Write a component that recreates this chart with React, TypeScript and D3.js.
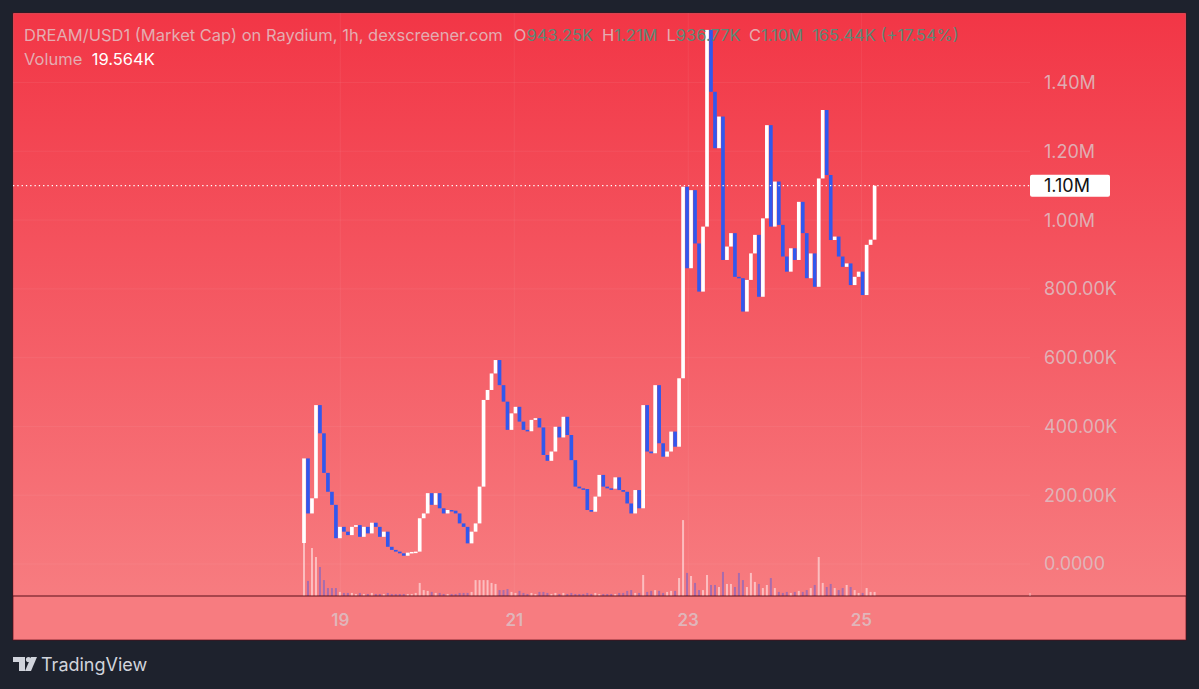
import React from "react";
import * as d3 from "d3";

// ---- data (market cap in thousands USD) ----
const firstOpen = 61;
const closes = [
  307, 147, 191, 462, 380, 265, 210, 172, 75, 108,
  94, 84, 108, 113, 79, 108, 89, 120, 108, 79,
  94, 50, 41, 36, 31, 24, 33, 35, 36, 133,
  147, 206, 172, 206, 162, 147, 157, 155, 147, 118,
  108, 60, 94, 118, 225, 477, 506, 554, 593, 520,
  472, 390, 438, 457, 414, 390, 386, 419, 424, 397,
  317, 300, 327, 399, 368, 428, 375, 302, 225, 220,
  218, 157, 152, 196, 259, 225, 220, 219, 252, 215,
  210, 176, 147, 215, 162, 462, 327, 322, 520, 351,
  312, 327, 385, 341, 540, 1097, 860, 1087, 932, 792,
  981, 1553, 1373, 1209, 1301, 884, 923, 962, 835, 831,
  734, 826, 903, 957, 777, 1005, 1276, 981, 1112, 986,
  894, 850, 918, 884, 1053, 962, 831, 903, 806, 1121,
  1320, 1131, 942, 952, 894, 864, 874, 811, 835, 850,
  782, 928, 943, 1100,
];
const volumes = [
  260, 74, 235, 191, 142, 78, 39, 39, 39, 20,
  15, 15, 15, 10, 15, 10, 10, 15, 10, 10,
  10, 15, 10, 10, 10, 10, 10, 10, 15, 64,
  29, 25, 20, 15, 15, 10, 10, 10, 10, 15,
  15, 15, 20, 78, 78, 78, 78, 64, 59, 29,
  29, 34, 20, 15, 25, 15, 10, 15, 10, 20,
  20, 15, 10, 15, 10, 15, 10, 15, 10, 10,
  10, 15, 10, 15, 10, 10, 10, 10, 10, 15,
  15, 25, 29, 15, 15, 103, 20, 25, 29, 25,
  15, 20, 25, 25, 88, 372, 113, 98, 64, 29,
  29, 103, 54, 54, 44, 118, 59, 59, 44, 113,
  78, 44, 113, 69, 59, 39, 54, 88, 39, 20,
  15, 20, 15, 20, 25, 20, 29, 39, 54, 191,
  64, 44, 59, 39, 29, 39, 54, 44, 29, 15,
  15, 39, 20, 20,
];
const priceTicks = [0, 200, 400, 600, 800, 1000, 1200, 1400];
const priceTickLabels = ["0.0000", "200.00K", "400.00K", "600.00K", "800.00K", "1.00M", "1.20M", "1.40M"];
const dayLabels = ["19", "21", "23", "25"];
const dayIndex = [9.1, 52.7, 96.3, 139.7];
const lastPriceLabel = "1.10M";

const W = 1199;
const H = 689;
const FONT = "Inter, 'Noto Sans', sans-serif";

export default function App() {
  const panel = { x: 13, y: 13, w: 1173, h: 627 };
  const axisY = 596;
  const priceAxisX = 1030;

  const x = d3.scaleLinear().domain([0, closes.length - 1]).range([304, 874.6]);
  const y = d3.scaleLinear().domain([0, 1400]).range([564, 82.5]);
  const yv = d3.scaleLinear().domain([0, 490]).range([axisY, axisY - 100]);
  const step = x(1) - x(0);
  const bw = step * 0.92;

  const candles = closes.map((c, i) => {
    const o = i === 0 ? firstOpen : closes[i - 1];
    return { i, o, c, up: c >= o };
  });

  const labelColor = "rgb(228,172,177)";
  const axisText = "rgba(220,192,197,0.85)";
  const valColor = "#5e8877";
  const last = closes[closes.length - 1];

  return (
    <svg width={W} height={H} style={{ position: "absolute", left: 0, top: 0, display: "block" }} fontFamily={FONT}>
      <defs>
        <linearGradient id="bg" x1="0" y1={panel.y} x2="0" y2={axisY} gradientUnits="userSpaceOnUse">
          <stop offset="0" stopColor="rgb(242,54,70)" />
          <stop offset="1" stopColor="rgb(247,124,128)" />
        </linearGradient>
      </defs>
      <rect x={0} y={0} width={W} height={H} fill="#1e222d" />
      <rect x={panel.x} y={panel.y} width={panel.w} height={panel.h} fill="rgb(247,124,128)" stroke="rgba(90,10,20,0.7)" strokeWidth={1} />
      <rect x={panel.x + 0.5} y={panel.y + 0.5} width={panel.w - 1} height={axisY - panel.y - 0.5} fill="url(#bg)" />

      {/* grid */}
      {priceTicks.map((t) => (
        <line key={"h" + t} x1={panel.x} x2={priceAxisX} y1={y(t)} y2={y(t)} stroke="rgba(255,255,255,0.06)" />
      ))}
      {dayIndex.map((d, k) => (
        <line key={"v" + k} x1={x(d)} x2={x(d)} y1={panel.y} y2={axisY} stroke="rgba(255,255,255,0.06)" />
      ))}

      {/* volume */}
      {candles.map((d) => (
        <rect key={"vol" + d.i} x={x(d.i) - 1} width={2} y={yv(volumes[d.i])} height={axisY - yv(volumes[d.i])}
          fill={d.up ? "rgba(255,235,235,0.6)" : "rgba(70,90,230,0.45)"} />
      ))}

      {/* candles */}
      {candles.map((d) => {
        const top = y(Math.max(d.o, d.c));
        const h = Math.max(1.5, Math.abs(y(d.o) - y(d.c)));
        return (
          <rect key={"c" + d.i} x={x(d.i) - bw / 2} width={bw} y={top} height={h}
            fill={d.up ? "#ffffff" : "#3158ee"} />
        );
      })}

      {/* last price line */}
      <line x1={panel.x} x2={priceAxisX} y1={y(last)} y2={y(last)}
        stroke="#ffffff" strokeWidth={1.3} strokeDasharray="1.3 3" />

      {/* axis line */}
      <line x1={panel.x} x2={panel.x + panel.w} y1={axisY} y2={axisY} stroke="rgb(90,15,25)" strokeWidth={1.2} />
      <line x1={priceAxisX} x2={priceAxisX} y1={axisY - 3} y2={axisY} stroke="rgba(255,255,255,0.5)" />

      {/* price labels */}
      {priceTicks.map((t, k) => (
        <text key={"pl" + t} x={1044} y={y(t)} dy="0.36em" fontSize={18} fill={axisText}>{priceTickLabels[k]}</text>
      ))}
      <rect x={1030} y={y(last) - 11} width={80} height={22} rx={2} fill="#ffffff" />
      <text x={1044} y={y(last)} dy="0.36em" fontSize={18} fill="#111">{lastPriceLabel}</text>

      {/* day labels */}
      {dayLabels.map((l, k) => (
        <text key={"d" + l} x={x(dayIndex[k])} y={620} dy="0.36em" textAnchor="middle" fontSize={17} fontWeight={600} fill={axisText}>{l}</text>
      ))}

      {/* header */}
      <text x={24} y={41} fontSize={16.5} fill={labelColor}>
        <tspan>DREAM/USD1 (Market Cap) on Raydium, 1h, dexscreener.com</tspan>
        <tspan dx={11}>O</tspan><tspan fill={valColor}>943.25K</tspan>
        <tspan dx={9}>H</tspan><tspan fill={valColor}>1.21M</tspan>
        <tspan dx={9}>L</tspan><tspan fill={valColor}>936.77K</tspan>
        <tspan dx={9}>C</tspan><tspan fill={valColor}>1.10M</tspan>
        <tspan dx={9} fill={valColor}>165.44K (+17.54%)</tspan>
      </text>
      <text x={24} y={65} fontSize={16.5} fill={labelColor}>
        <tspan>Volume</tspan>
        <tspan dx={10} fill="#ffffff">19.564K</tspan>
      </text>

      {/* TradingView logo */}
      <g fill="#d1d4dc">
        <path d="M13 657 H25 V671 H19 V662 H13 Z" />
        <circle cx={28.5} cy={659.5} r={2.6} />
        <path d="M31 657 H37 L31 671 H25 Z" />
      </g>
      <text x={41} y={671} fontSize={18} fill="#d1d4dc">TradingView</text>
    </svg>
  );
}
